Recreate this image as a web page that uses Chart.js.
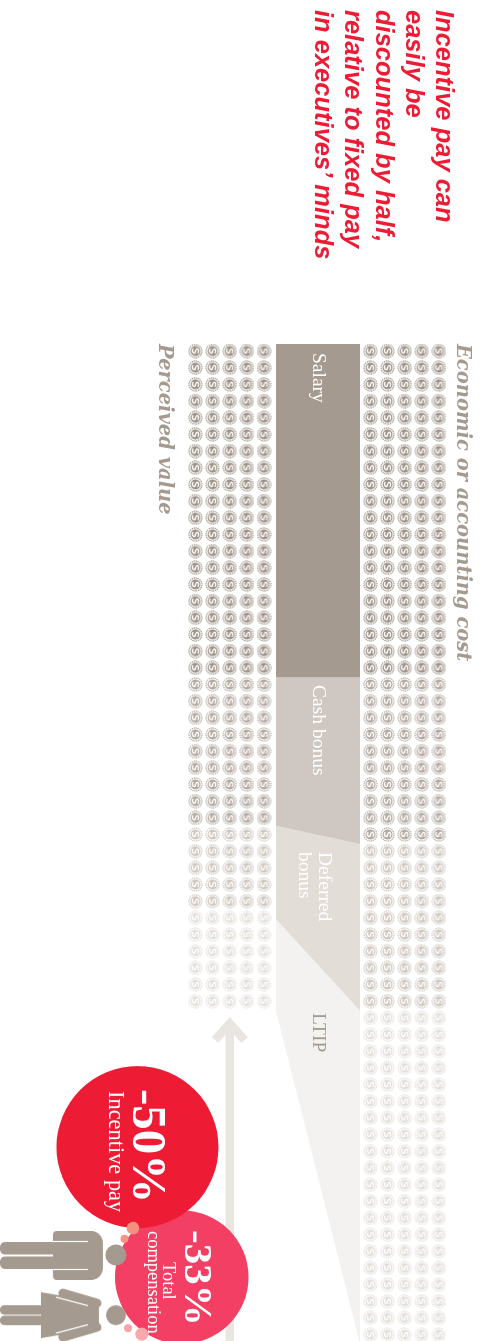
<!DOCTYPE html>
<html>
<head>
<meta charset="utf-8">
<title>Incentive pay discount</title>
<style>
  html, body { margin: 0; background: #fff; }
  .page { position: relative; width: 481px; height: 1341px; overflow: hidden; }
  /* the whole graphic is turned on its side, so the chart is laid out lying flat */
  #chart { position: absolute; left: 0; top: 0; transform-origin: 0 0; transform: translate(481px, 0) rotate(90deg); }
</style>
</head>
<body>
<div class="page"><canvas id="chart" width="1341" height="481"></canvas></div>
<script src="https://cdn.jsdelivr.net/npm/chart.js@4"></script>
<script>
const headline = ['Incentive pay can', 'easily be', 'discounted by half,', 'relative to fixed pay', 'in executives\u2019 minds'];
const categories = ['Salary', 'Cash bonus', 'Deferred bonus', 'LTIP'];
const seriesNames = ['Economic or accounting cost', 'Perceived value'];

// one coin = one unit, counted per row of coins
const costRows = [20, 10, 10, 20];
const perceivedRows = [20, 9, 5, 6];
// the band's slanted edges do not land exactly on whole coins
const perceivedBand = [20, 8.9, 5.6, 5.5];

const discounts = ['-50%', '-33%'];
const discountNames = ['Incentive pay', 'Total compensation'];
const discountRadius = [81, 66.7];

const bandColors = ['#a59a8f', '#cfc8c2', '#e3ddd7', '#f3f2f1'];
const coinColors = ['#9c9186', '#b3a9a0', '#cfc7c0', '#e3e0db'];

const xMax = 59.8;
const coinOffset = 0.42;
const costLanes = [0, 1, 2, 3, 4];
const perceivedLanes = [10.2, 11.2, 12.2, 13.2, 14.2];
const bandTop = 4.6;
const bandBottom = 9.5;

function makeCoin(color){
    const c = document.createElement('canvas');
    c.width = 15;
    c.height = 15;
    const g = c.getContext('2d');
    g.translate(7.5, 7.5);
    g.strokeStyle = color;
    g.lineWidth = 1.2;
    g.setLineDash([1.3, 0.7]);
    g.beginPath();
    g.arc(0, 0, 6.5, 0, Math.PI * 2);
    g.stroke();
    g.setLineDash([]);
    g.fillStyle = color;
    g.beginPath();
    g.arc(0, 0, 5, 0, Math.PI * 2);
    g.fill();
    // dollar sign as a path
    g.strokeStyle = '#fff';
    g.lineWidth = 1.4;
    g.beginPath();
    g.moveTo(2.2, -2.2);
    g.bezierCurveTo(1.1, -3.7, -2.6, -3.2, -2.1, -1.3);
    g.bezierCurveTo(-1.7, 0.5, 2.6, -0.5, 2.1, 1.4);
    g.bezierCurveTo(1.7, 3.2, -1.3, 3.6, -2.3, 2.1);
    g.stroke();
    return c;
}

function makeMan(color){
    const c = document.createElement('canvas');
    c.width = 54;
    c.height = 129;
    const g = c.getContext('2d');
    g.fillStyle = color;
    g.beginPath();
    g.arc(26, 13, 10.5, 0, Math.PI * 2);
    g.fill();
    g.beginPath();
    g.roundRect(2, 26, 49, 50, [12, 12, 4, 4]);
    g.roundRect(13, 60, 12.5, 69, 5);
    g.roundRect(27.5, 60, 12.5, 69, 5);
    g.fill();
    g.strokeStyle = '#fff';
    g.lineWidth = 1.2;
    g.beginPath();
    g.moveTo(12.5, 41);
    g.lineTo(12.5, 78);
    g.moveTo(40.5, 41);
    g.lineTo(40.5, 78);
    g.stroke();
    return c;
}

function makeWoman(color){
    const c = document.createElement('canvas');
    c.width = 58;
    c.height = 129;
    const g = c.getContext('2d');
    g.fillStyle = color;
    g.beginPath();
    g.arc(29, 13, 10, 0, Math.PI * 2);
    g.fill();
    g.beginPath();
    g.moveTo(6, 88);
    g.lineTo(52, 88);
    g.lineTo(42, 30);
    g.lineTo(16, 30);
    g.closePath();
    g.fill();
    g.beginPath();
    g.roundRect(19, 85, 9.5, 44, 4.5);
    g.roundRect(29.5, 85, 9.5, 44, 4.5);
    g.fill();
    g.strokeStyle = color;
    g.lineWidth = 9;
    g.lineCap = 'round';
    g.beginPath();
    g.moveTo(17, 32);
    g.lineTo(7, 66);
    g.moveTo(41, 32);
    g.lineTo(51, 66);
    g.stroke();
    g.strokeStyle = '#fff';
    g.lineWidth = 1.2;
    g.lineCap = 'butt';
    g.beginPath();
    g.moveTo(19.5, 41);
    g.lineTo(11, 73);
    g.moveTo(38.5, 41);
    g.lineTo(47, 73);
    g.stroke();
    return c;
}

function coinDataset(lanes, firstRow, rows, color){
    const points = [];
    for (let i = 0; i < rows; i++) {
        for (let j = 0; j < lanes.length; j++) {
            points.push({x: firstRow + i + coinOffset, y: lanes[j]});
        }
    }
    return {type: 'scatter', data: points, showLine: false, pointStyle: makeCoin(color), pointRadius: 7};
}

function edgeDataset(costEdge, perceivedEdge, color){
    return {
        type: 'line',
        data: [{x: costEdge, y: bandTop}, {x: perceivedEdge, y: bandBottom}],
        borderWidth: 0,
        pointRadius: 0,
        fill: color ? '-1' : false,
        backgroundColor: color
    };
}

function bubbleDataset(x, y, r, color){
    return {type: 'bubble', data: [{x: x, y: y, r: r}], backgroundColor: color, borderWidth: 0};
}

function strokeDataset(points){
    return {
        type: 'line',
        data: points,
        borderColor: '#e9e6e1',
        borderWidth: 8.5,
        borderJoinStyle: 'miter',
        borderCapStyle: 'butt',
        pointRadius: 0,
        fill: false
    };
}

const datasets = [];

// dots and people sit on top of the circles, first dataset is drawn last
datasets.push(bubbleDataset(53.03, 17.84, 6.3, '#f4907f'));
datasets.push(bubbleDataset(53.67, 18.34, 4, '#f4937f'));
datasets.push(bubbleDataset(59.03, 18.13, 4, '#f9a5a8'));
datasets.push(bubbleDataset(59.39, 17.33, 6.5, '#f9a8ac'));
datasets.push({type: 'scatter', data: [{x: 54.7, y: 21.84}], showLine: false, pointStyle: makeMan('#a59a8f'), pointRadius: 10});
datasets.push({type: 'scatter', data: [{x: 58.25, y: 21.84}], showLine: false, pointStyle: makeWoman('#a59a8f'), pointRadius: 10});
datasets.push(bubbleDataset(48.17, 17.58, discountRadius[0], '#ee1b35'));
datasets.push(bubbleDataset(55.97, 15, discountRadius[1], '#f23f63'));

// arrow between the coins
datasets.push(strokeDataset([{x: 41, y: 12.2}, {x: 60, y: 12.2}]));
datasets.push(strokeDataset([{x: 41.75, y: 13.06}, {x: 40.75, y: 12.2}, {x: 41.75, y: 11.34}]));

// band: each edge runs from cost (top) to perceived (bottom), filled to the previous edge
let costSum = 0;
let perceivedSum = 0;
datasets.push(edgeDataset(0, 0, null));
for (let i = 0; i < categories.length; i++) {
    costSum += costRows[i];
    perceivedSum += perceivedBand[i];
    datasets.push(edgeDataset(costSum, perceivedSum, bandColors[i]));
}

// coins
let costStart = 0;
let perceivedStart = 0;
for (let i = 0; i < categories.length; i++) {
    datasets.push(coinDataset(costLanes, costStart, costRows[i], coinColors[i]));
    datasets.push(coinDataset(perceivedLanes, perceivedStart, perceivedRows[i], coinColors[i]));
    costStart += costRows[i];
    perceivedStart += perceivedRows[i];
}

const serif = '"Liberation Serif", serif';
const wideSerif = '"DejaVu Serif", serif';
const sans = '"Liberation Sans", sans-serif';

const textLayout = [
    {text: headline[0], x: 10, y: 45, font: 'italic bold 25.5px ' + sans, color: '#ee1b35'},
    {text: headline[1], x: 10, y: 75, font: 'italic bold 25.5px ' + sans, color: '#ee1b35'},
    {text: headline[2], x: 10, y: 105, font: 'italic bold 25.5px ' + sans, color: '#ee1b35'},
    {text: headline[3], x: 10, y: 136, font: 'italic bold 25.5px ' + sans, color: '#ee1b35'},
    {text: headline[4], x: 10, y: 166, font: 'italic bold 25.5px ' + sans, color: '#ee1b35'},
    {text: seriesNames[0], x: 344, y: 24, font: 'italic bold 19.5px ' + wideSerif, color: '#a59a8f'},
    {text: seriesNames[1], x: 344, y: 321.5, font: 'italic bold 19.5px ' + wideSerif, color: '#a59a8f'},
    {text: categories[0], x: 353, y: 168, font: '19.5px ' + serif, color: '#ffffff'},
    {text: categories[1], x: 685, y: 168, font: '19.5px ' + serif, color: '#ffffff'},
    {text: 'Deferred', x: 852, y: 162, font: '19.5px ' + serif, color: '#ffffff'},
    {text: 'bonus', x: 852, y: 182, font: '19.5px ' + serif, color: '#ffffff'},
    {text: categories[3], x: 1013, y: 168, font: '19.5px ' + serif, color: '#a59a8f'},
    {text: discounts[0], x: 1089, y: 348, font: 'bold 49px ' + serif, color: '#ffffff'},
    {text: discountNames[0], x: 1091, y: 372, font: '22.4px ' + serif, color: '#ffffff'},
    {text: discounts[1], x: 1230, y: 296, font: 'bold 41px ' + serif, color: '#ffffff'},
    {text: 'Total', x: 1262, y: 317.5, font: '18.5px ' + serif, color: '#ffffff'},
    {text: 'compensation', x: 1231, y: 333, font: '18.5px ' + serif, color: '#ffffff'}
];

const textPlugin = {
    id: 'textPlugin',
    afterDraw: function(chart){
        const ctx = chart.ctx;
        ctx.save();
        ctx.textAlign = 'left';
        ctx.textBaseline = 'alphabetic';
        for (let i = 0; i < textLayout.length; i++) {
            const t = textLayout[i];
            ctx.font = t.font;
            ctx.fillStyle = t.color;
            ctx.fillText(t.text, t.x, t.y);
        }
        ctx.restore();
    }
};

new Chart(document.getElementById('chart'), {
    type: 'line',
    data: {datasets: datasets},
    plugins: [textPlugin],
    options: {
        indexAxis: 'y',
        responsive: false,
        animation: false,
        // big circles must not shrink the plot area
        layout: {autoPadding: false, padding: {left: 344, right: 0, top: 0, bottom: 0}},
        plugins: {legend: {display: false}, tooltip: {enabled: false}},
        scales: {
            x: {type: 'linear', display: false, min: 0, max: xMax},
            // lanes are coin columns, 17.15px apart, first one 42px in
            y: {type: 'linear', display: false, reverse: true, min: -2.45, max: 25.6}
        }
    }
});
</script>
</body>
</html>
